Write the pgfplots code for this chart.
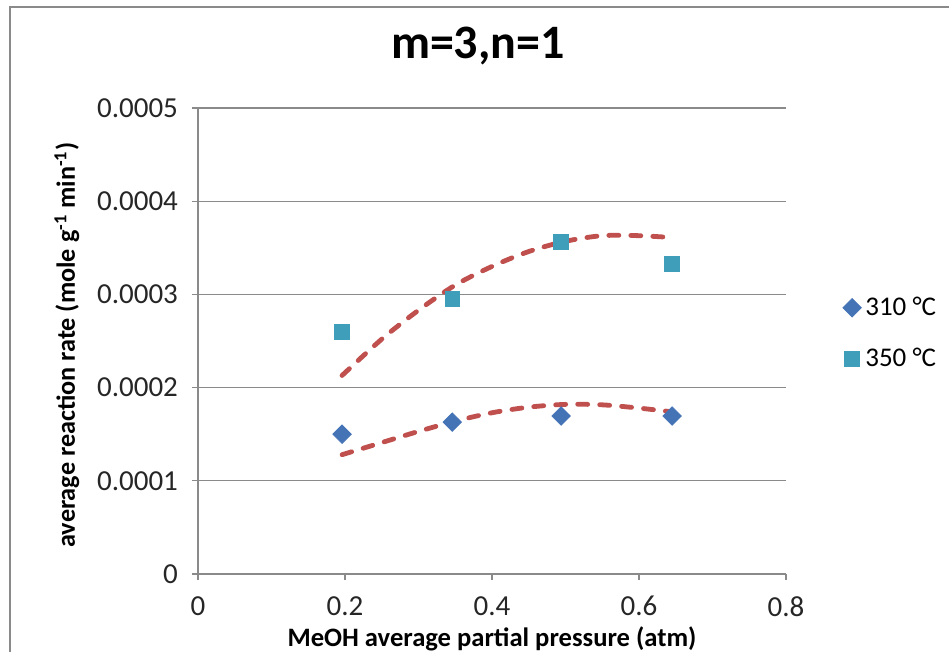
\documentclass[border=0pt]{standalone}
\usepackage{pgfplots}
\pgfplotsset{compat=1.18}
\usepackage{fontspec}
\setmainfont{Carlito}
\definecolor{serA}{HTML}{4574B6}
\definecolor{serB}{HTML}{3F9FBA}
\definecolor{fitred}{HTML}{C0504D}
\definecolor{gridgray}{HTML}{8A8A8A}

\begin{document}
\begin{tikzpicture}
% page = 949x652 px at 0.5pt per px
\useasboundingbox (0,0) rectangle (474.5pt,326pt);
\draw[gridgray, line width=0.8pt] (5pt,0) -- (5pt,322.5pt) -- (474.5pt,322.5pt);
\begin{axis}[
  at={(99pt,39pt)}, anchor=south west,
  scale only axis,
  width=294pt, height=233pt,
  xmin=0, xmax=0.8, ymin=0, ymax=0.0005,
  xtick={0,0.2,0.4,0.6,0.8},
  ytick={0,0.0001,0.0002,0.0003,0.0004,0.0005},
  yticklabels={0,0.0001,0.0002,0.0003,0.0004,0.0005},
  scaled y ticks=false,
  axis x line=bottom, axis y line=left,
  axis line style={-, gridgray, line width=0.6pt},
  tick style={gridgray, line width=0.6pt},
  tick align=outside, major tick length=3pt,
  ymajorgrids, grid style={gridgray, line width=0.6pt},
  /pgf/number format/assume math mode=true,
  tick label style={font=\fontsize{14.5}{16}\selectfont, text=black!85},
  xticklabel style={yshift=-7pt, text depth=0pt, inner sep=1pt},
  yticklabel style={xshift=-3.5pt},
  title={\textbf{m=3,n=1}},
  title style={at={(0.476,1.107)}, anchor=center, font=\fontsize{24}{28}\selectfont},
  xlabel={\textbf{MeOH average partial pressure (atm)}},
  xlabel style={at={(0.5,-0.139)}, anchor=center, inner sep=1pt, font=\fontsize{13.3}{15}\selectfont},
  ylabel={\textbf{average reaction rate (mole g\textsuperscript{-1} min\textsuperscript{-1})}},
  ylabel style={at={(-0.223,0.491)}, anchor=center, font=\fontsize{13.1}{15}\selectfont},
  legend style={at={(1.086,0.516)}, anchor=west, draw=none, fill=none,
    font=\fontsize{13.5}{15}\selectfont, row sep=11pt},
  legend cell align=left,
  clip=false,
]
% fitted curves (dashed)
\addplot[fitred, line width=2.4pt, line cap=round, dash pattern=on 5pt off 6pt, smooth, forget plot] coordinates {
  (0.196,0.000128)(0.25,0.000141)(0.30,0.000153)(0.35,0.000164)(0.40,0.000173)
  (0.45,0.000179)(0.50,0.000182)(0.55,0.0001815)(0.60,0.000178)(0.645,0.000174)
};
\addplot[fitred, line width=2.4pt, line cap=round, dash pattern=on 5pt off 6pt, smooth, forget plot] coordinates {
  (0.196,0.000213)(0.25,0.000252)(0.30,0.000283)(0.35,0.000310)(0.40,0.000330)
  (0.45,0.000346)(0.50,0.000357)(0.55,0.000363)(0.60,0.000363)(0.645,0.000361)
};
% measured data
\addplot[only marks, mark=diamond*, mark size=4.6pt, mark options={xscale=1.333, fill=serA, draw=serA}] coordinates {
  (0.196,0.000150)(0.346,0.000163)(0.494,0.0001695)(0.645,0.0001695)
};
\addlegendentry{310 °C}
\addplot[only marks, mark=square*, mark size=3.7pt, mark options={fill=serB, draw=serB}] coordinates {
  (0.196,0.0002597)(0.346,0.000295)(0.494,0.000356)(0.645,0.0003326)
};
\addlegendentry{350 °C}
\end{axis}
\end{tikzpicture}
\end{document}
